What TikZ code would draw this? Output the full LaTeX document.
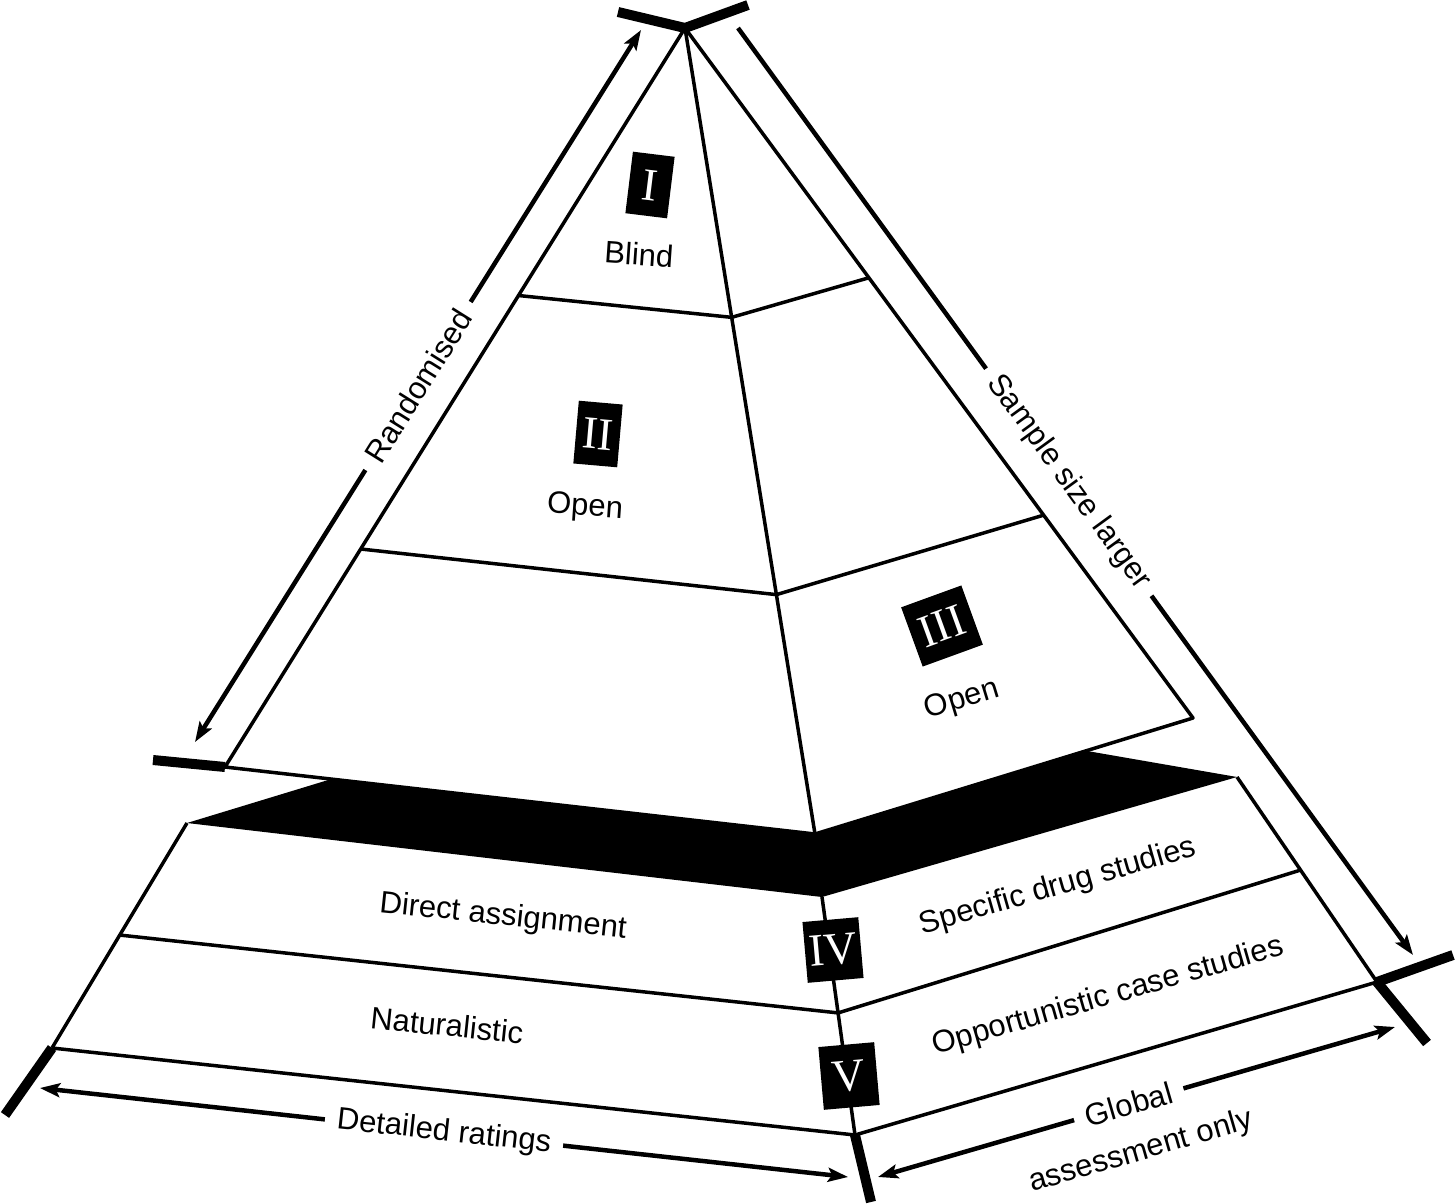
\documentclass[tikz,border=0pt]{standalone}
\usepackage{fontspec}
\setmainfont{Liberation Sans}
\newfontfamily\numfont{Liberation Serif}
\usetikzlibrary{arrows.meta,calc}
\begin{document}
\begin{tikzpicture}[x=1pt,y=-1pt,
  thinline/.style={line width=3.5pt, line join=round},
  thickbar/.style={line width=10pt},
  arrowline/.style={line width=4.5pt},
  lbl/.style={font=\fontsize{31}{36}\selectfont, inner sep=0pt},
  gaplbl/.style={lbl, fill=white, inner xsep=12pt, inner ysep=3pt, sloped},
  numbox/.style={fill=black, text=white, font=\numfont\fontsize{46}{50}\selectfont, inner sep=0pt},
  >={Stealth[length=20pt,width=14pt,inset=4pt]}
]
\fill[white] (0,0) rectangle (1456,1204);
\useasboundingbox (0,0) rectangle (1456,1204);

% upper pyramid points
\coordinate (A) at (685,28);
\coordinate (PL) at (225,767);
\coordinate (PF) at (815,834);
\coordinate (PR) at (1193,718);
\coordinate (L1) at ($(A)!0.362!(PL)$);
\coordinate (M1) at ($(A)!0.359!(PF)$);
\coordinate (R1) at ($(A)!0.362!(PR)$);
\coordinate (L2) at ($(A)!0.705!(PL)$);
\coordinate (M2) at ($(A)!0.703!(PF)$);
\coordinate (R2) at ($(A)!0.706!(PR)$);

% lower frustum points
\coordinate (TL) at (187,823);
\coordinate (TF) at (822,897);
\coordinate (TR) at (1237,777);
\coordinate (BL) at (52,1048);
\coordinate (BF) at (855,1135);
\coordinate (BR) at (1377,982);
\coordinate (DL) at ($(TL)!0.498!(BL)$);
\coordinate (DM) at ($(TF)!0.487!(BF)$);
\coordinate (DR) at ($(TR)!0.454!(BR)$);
\coordinate (Q1) at (315,784);
\coordinate (Q2) at (1093,752);
\coordinate (P1) at (intersection of TL--Q1 and PL--PF);
\coordinate (P2) at (intersection of TR--Q2 and PF--PR);

% black band (visible top of the lower frustum)
\fill[black] (TL) -- (P1) -- (PF) -- (P2) -- (TR) -- (TF) -- cycle;

% lower frustum lines
\draw[thinline] (TL) -- (BL);
\draw[thinline] (TR) -- (BR);
\draw[thinline] (TF) -- (BF);
\draw[thinline] (DL) -- (DM) -- (DR);
\draw[thinline] (BL) -- (BF) -- (BR);

% upper pyramid lines
\draw[thinline] (A) -- (PL) -- (PF) -- (PR) -- cycle;
\draw[thinline] (A) -- (PF);
\draw[thinline] (L1) -- (M1) -- (R1);
\draw[thinline] (L2) -- (M2) -- (R2);

% thick bars
\coordinate (TB1) at (618,12);
\coordinate (TB2) at (748,5);
\coordinate (TB3) at (153,760);
\coordinate (TB4) at (5,1115);
\coordinate (TB5) at (871,1202);
\coordinate (TB6) at (1453,955);
\coordinate (TB7) at (1427,1043);
\draw[thickbar] (TB1) -- (A) -- (TB2);
\draw[thickbar] (PL) -- (TB3);
\draw[thickbar] (BL) -- (TB4);
\draw[thickbar] (BF) -- (TB5);
\draw[thickbar] (BR) -- (TB6);
\draw[thickbar] (BR) -- (TB7);

% arrows
\coordinate (RA1) at (195,742);
\coordinate (RA2) at (641,30);
\draw[arrowline,<->] (RA1) -- node[gaplbl] (rand) {Randomised} (RA2);
\coordinate (SA1) at (738,28);
\coordinate (SA2) at (1413,955);
\draw[arrowline,->] (SA1) -- node[gaplbl,pos=0.49] (samp) {Sample size larger} (SA2);
\coordinate (DA1) at (40,1088);
\coordinate (DA2) at (848,1177);
\draw[arrowline,<->] (DA1) -- node[gaplbl] (detr) {Detailed ratings} (DA2);
\coordinate (GA1) at (878,1177);
\coordinate (GA2) at (1395,1027);
\draw[arrowline,<->] (GA1) -- node[gaplbl,pos=0.485] (glob) {Global} (GA2);
\node[lbl, rotate=16.2] (assess) at (1141,1152) {assessment only};

% labels
\node[lbl, rotate=-4] (blind) at (639,254) {Blind};
\node[lbl, rotate=-4] (open2) at (585,508) {Open};
\node[lbl, rotate=17] (open3) at (962,700) {Open};
\node[lbl, rotate=-6] (direct) at (503,917) {Direct assignment};
\node[lbl, rotate=-6] (natur) at (447,1025) {Naturalistic};
\node[lbl, rotate=16] (spec) at (1058,887) {Specific drug studies};
\node[lbl, rotate=16] (oppo) at (1108,997) {Opportunistic case studies};

% roman numeral boxes
\node[numbox, minimum width=42pt, minimum height=62pt, rotate=-7] (n1) at (650,185) {I};
\node[numbox, minimum width=44pt, minimum height=63pt, rotate=-5] (n2) at (598,434) {II};
\node[numbox, minimum width=64pt, minimum height=63pt, rotate=20] (n3) at (942,626) {III};
\node[numbox, minimum width=56pt, minimum height=61pt, rotate=5] (n4) at (833,950) {IV};
\node[numbox, minimum width=56pt, minimum height=63pt, rotate=5] (n5) at (849,1076) {V};
\end{tikzpicture}
\end{document}
